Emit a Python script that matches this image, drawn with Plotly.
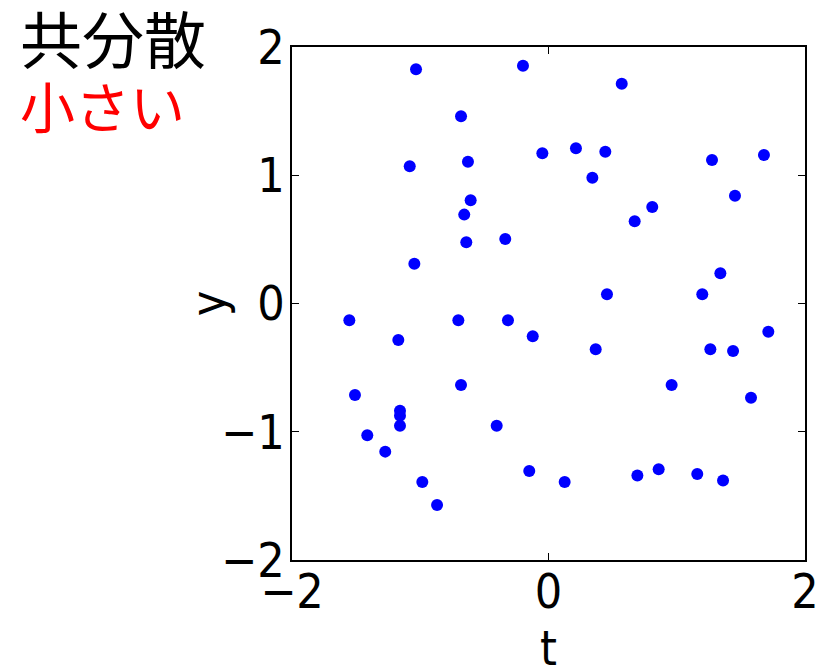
import plotly.graph_objects as go

# Sample points (t, y)
t_vals = [
    -1.033, -0.199, -0.682, -0.048, -1.082, -0.628, -0.607, -0.657, -0.641, -0.337, -1.046,
    0.571, 0.214, 0.443, 0.342, 1.275, 1.680, 1.454, 0.809, 0.672, 1.340, 0.456, 1.199,
    -1.553, -0.703, -0.316, -0.123, -1.171, -0.682, -1.509, -1.158, -1.158, -1.158,
    -1.413, -1.273, -0.404, -0.150, -0.984, -0.869,
    1.714, 0.368, 1.262, 1.439, 0.960, 1.579, 0.126, 0.693, 0.859, 1.160, 1.361,
]
y_vals = [
    1.826, 1.854, 1.460, 1.171, 1.070, 1.106, 0.805, 0.693, 0.477, 0.503, 0.310,
    1.714, 1.210, 1.184, 0.981, 1.119, 1.158, 0.841, 0.752, 0.641, 0.235, 0.072, 0.072,
    -0.131, -0.131, -0.131, -0.256, -0.285, -0.635, -0.713, -0.836, -0.875, -0.953,
    -1.028, -1.155, -0.953, -1.306, -1.392, -1.571,
    -0.220, -0.357, -0.357, -0.370, -0.635, -0.734, -1.392, -1.342, -1.293, -1.329, -1.381,
]
tick_vals = [-2, -1, 0, 1, 2]
x_ticks = [-2, 0, 2]

CJK_FONT = "Noto Sans CJK JP"
NUM_FONT = "DejaVu Sans Condensed, Noto Sans CJK JP, sans-serif"

fig = go.Figure(
    go.Scatter(
        x=t_vals, y=y_vals, mode="markers",
        marker=dict(color="#0000ff", size=12, line=dict(width=0)),
        showlegend=False,
    )
)

axis_common = dict(
    showgrid=False, zeroline=False, automargin=False,
    showline=True, linecolor="black", linewidth=1.5, mirror="ticks",
    ticks="inside", ticklen=7, tickwidth=1, tickcolor="black",
    tickfont=dict(family=NUM_FONT, size=48, color="black"),
    range=[-2, 2],
)

fig.update_xaxes(**axis_common, tickvals=x_ticks, ticklabelstandoff=-11)
fig.update_yaxes(**axis_common, tickvals=tick_vals, ticklabelstandoff=-4)

# Axis titles
fig.add_annotation(
    text="t", xref="x", yref="paper", x=0, y=-0.1715,
    xanchor="center", yanchor="middle", showarrow=False,
    font=dict(family=NUM_FONT, size=48, color="black"),
)
fig.add_annotation(
    text="y", xref="paper", yref="y", x=-0.164, y=0,
    xanchor="center", yanchor="middle", showarrow=False, textangle=-90,
    font=dict(family=NUM_FONT, size=48, color="black"),
)

# Heading
fig.add_annotation(
    text="共分散", xref="paper", yref="paper", x=-0.535, y=1.02,
    xanchor="left", yanchor="middle", showarrow=False,
    font=dict(family=CJK_FONT, size=62, color="black"),
)
fig.add_annotation(
    text="小さい", xref="paper", yref="paper", x=-0.534, y=0.888,
    xanchor="left", yanchor="middle", showarrow=False,
    font=dict(family=CJK_FONT, size=55, color="#ff0000"),
)

fig.update_layout(
    width=821, height=665,
    margin=dict(l=292, r=16, t=47, b=105),
    paper_bgcolor="white", plot_bgcolor="white",
)

fig.write_html("out.html")
